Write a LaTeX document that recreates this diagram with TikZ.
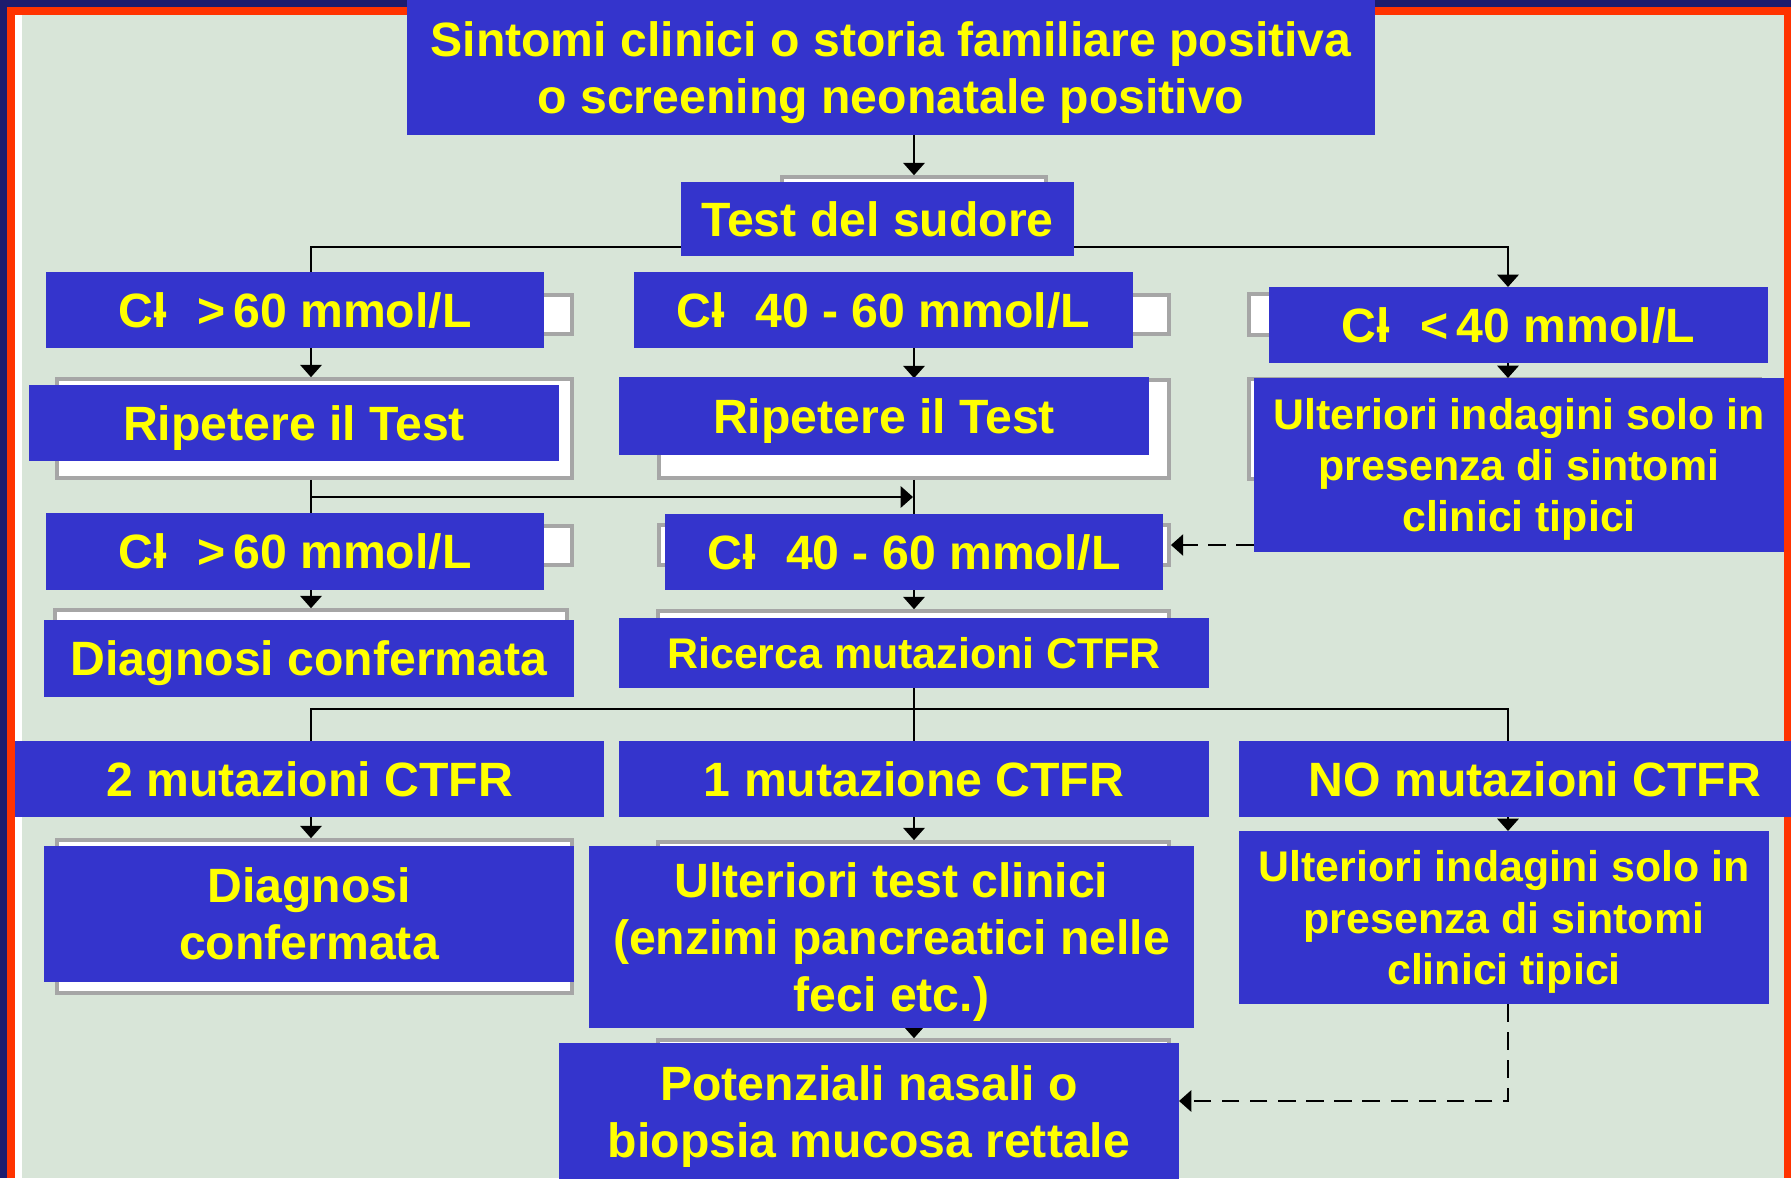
\documentclass[tikz,border=0pt]{standalone}
\usepackage{fontspec}
\setmainfont{Liberation Sans}
\usepackage{tikz}
\usetikzlibrary{shapes,arrows,arrows.meta,positioning}
\definecolor{boxblue}{RGB}{52,52,204}
\definecolor{slidebg}{RGB}{216,229,216}
\definecolor{framered}{RGB}{255,51,0}
\definecolor{framenavy}{RGB}{28,28,110}
\definecolor{textyellow}{RGB}{255,255,0}
\tikzstyle{bbox} = [rectangle, fill=boxblue, text=textyellow, inner sep=0pt, align=center, text depth=0pt, font=\bfseries\fontsize{13.7}{16.2}\selectfont]
\tikzstyle{sbox} = [bbox, font=\bfseries\fontsize{12.2}{14.6}\selectfont]
\tikzstyle{ghost} = [rectangle, fill=white, draw=gray!70, line width=1pt, inner sep=0pt]
\tikzstyle{line} = [draw, line width=0.8pt]
\tikzstyle{aline} = [line, -{Triangle[width=6pt,length=3.5pt]}]
\tikzstyle{dline} = [aline, dash pattern=on 5pt off 3pt]
\newcommand{\clion}{Cl\kern-.3em-\kern.6em}

\begin{document}
\begin{tikzpicture}[x=0.01cm, y=-0.01cm]
			\useasboundingbox (0,0) rectangle (1791,1178);
			% slide frame
			\fill [slidebg] (0,0) rectangle (1791,1178);
			\fill [framenavy] (0,0) rectangle (1791,7);
			\fill [framenavy] (0,0) rectangle (7,1178);
			\fill [framered] (7,7) rectangle (1791,15);
			\fill [framered] (7,7) rectangle (14.5,1178);
			\fill [framered] (1784,7) rectangle (1791,1178);
			\fill [white] (14.5,15) rectangle (22,1178);

			\coordinate (lx) at (311,0);
			\coordinate (mx) at (914,0);
			\coordinate (rx) at (1508,0);

			% ghost boxes
			\node [ghost, minimum width=2.64cm, minimum height=0.73cm] (g0) at (914,213.5) {};
			\node [ghost, minimum width=5.12cm, minimum height=0.39cm] (g1) at (316,314.5) {};
			\node [ghost, minimum width=5.09cm, minimum height=0.39cm] (g2) at (914.5,314.5) {};
			\node [ghost, minimum width=5.11cm, minimum height=0.41cm] (g3) at (1504.5,314.5) {};
			\node [ghost, minimum width=5.15cm, minimum height=0.99cm] (g4) at (314.5,428.5) {};
			\node [ghost, minimum width=5.10cm, minimum height=0.98cm] (g5) at (914,429) {};
			\node [ghost, minimum width=5.11cm, minimum height=1.00cm] (g6) at (1504.5,429) {};
			\node [ghost, minimum width=5.12cm, minimum height=0.39cm] (g7) at (316,545.5) {};
			\node [ghost, minimum width=5.10cm, minimum height=0.40cm] (g8) at (914,545) {};
			\node [ghost, minimum width=5.12cm, minimum height=0.50cm] (g9) at (311,635) {};
			\node [ghost, minimum width=5.11cm, minimum height=0.49cm] (g10) at (913.5,635.5) {};
			\node [ghost, minimum width=5.15cm, minimum height=1.53cm] (g11) at (314.5,916.5) {};
			\node [ghost, minimum width=5.11cm, minimum height=1.58cm] (g12) at (913.5,921) {};
			\node [ghost, minimum width=5.11cm, minimum height=0.60cm] (g13) at (913.5,1070) {};

			% connectors
			\path [aline] (mx |- 0,135) -- (g0.north);
			\path [line] (lx |- 0,272) |- (mx |- 0,247) -- (mx |- 0,256);
			\coordinate (b1) at (914,247);
			\path [aline] (b1) -| (rx |- 0,287);
			\path [aline] (lx |- 0,348) -- (g4.north -| lx);
			\path [aline] (mx |- 0,348) -- (g5.north);
			\path [aline] (rx |- 0,363) -- (rx |- 0,378);
			\path [line] (g4.south -| lx) -- (lx |- 0,513);
			\coordinate (b2) at (311,497);
			\coordinate (b3) at (913,497);
			\path [aline] (b2) -- (b3);
			\path [line] (g5.south) -- (mx |- 0,514);
			\path [aline] (lx |- 0,590) -- (g9.north -| lx);
			\path [aline] (mx |- 0,590) -- (g10.north -| mx);
			\coordinate (b4) at (914,709);
			\path [line] (mx |- 0,688) -- (mx |- 0,741);
			\path [line] (lx |- 0,741) |- (b4) -| (rx |- 0,741);
			\path [aline] (lx |- 0,817) -- (g11.north -| lx);
			\path [aline] (mx |- 0,817) -- (g12.north -| mx);
			\path [aline] (rx |- 0,817) -- (rx |- 0,831);
			\path [aline] (mx |- 0,1028) -- (g13.north -| mx);
			\path [dline] (1254,545) -- (g8.east);
			\coordinate (d1) at (1508,1101);
			\path [dline] (rx |- 0,1004) -- (d1) -- (1179,1101);

			% flow boxes
			\node [bbox, minimum width=9.68cm, minimum height=1.35cm] (title) at (891,67.5) {Sintomi clinici o storia familiare positiva\\o screening neonatale positivo};
			\node [bbox, minimum width=3.93cm, minimum height=0.74cm] (test) at (877.5,219) {Test del sudore};
			\node [bbox, minimum width=4.98cm, minimum height=0.76cm] (cl1) at (295,310) {\clion >\,60 mmol/L};
			\node [bbox, minimum width=4.99cm, minimum height=0.76cm] (cl2) at (883.5,310) {\clion 40 - 60 mmol/L};
			\node [bbox, minimum width=4.99cm, minimum height=0.76cm] (cl3) at (1518.5,325) {\clion <\,40 mmol/L};
			\node [bbox, minimum width=5.30cm, minimum height=0.76cm] (rep1) at (294,423) {Ripetere il Test};
			\node [bbox, minimum width=5.30cm, minimum height=0.78cm] (rep2) at (884,416) {Ripetere il Test};
			\node [sbox, minimum width=5.30cm, minimum height=1.74cm] (ult1) at (1519,465) {Ulteriori indagini solo in\\presenza di sintomi\\clinici tipici};
			\node [bbox, minimum width=4.98cm, minimum height=0.77cm] (cl4) at (295,551.5) {\clion >\,60 mmol/L};
			\node [bbox, minimum width=4.98cm, minimum height=0.76cm] (cl5) at (914,552) {\clion 40 - 60 mmol/L};
			\node [bbox, minimum width=5.30cm, minimum height=0.77cm] (diag1) at (309,658.5) {Diagnosi confermata};
			\node [sbox, minimum width=5.90cm, minimum height=0.70cm] (ric) at (914,653) {Ricerca mutazioni CTFR};
			\node [bbox, minimum width=5.89cm, minimum height=0.76cm] (mut2) at (309.5,779) {2 mutazioni CTFR};
			\node [bbox, minimum width=5.90cm, minimum height=0.76cm] (mut1) at (914,779) {1 mutazione CTFR};
			\node [bbox, minimum width=5.92cm, minimum height=0.76cm] (mut0) at (1535,779) {NO mutazioni CTFR};
			\node [bbox, minimum width=5.30cm, minimum height=1.36cm] (diag2) at (309,914) {Diagnosi\\confermata};
			\node [bbox, minimum width=6.05cm, minimum height=1.82cm] (ultt) at (891.5,937) {Ulteriori test clinici\\(enzimi pancreatici nelle\\feci etc.)};
			\node [sbox, minimum width=5.30cm, minimum height=1.73cm] (ult2) at (1504,917.5) {Ulteriori indagini solo in\\presenza di sintomi\\clinici tipici};
			\node [bbox, minimum width=6.20cm, minimum height=1.37cm] (pot) at (869,1111.5) {Potenziali nasali o\\biopsia mucosa rettale};
		\end{tikzpicture}
\end{document}
